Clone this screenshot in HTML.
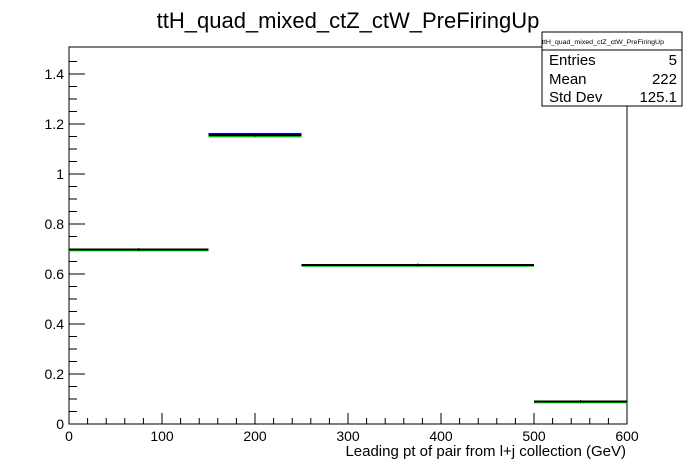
<!DOCTYPE html>
<html><head><meta charset="utf-8"><style>
body{margin:0;background:#fff;}
svg{display:block;font-family:"Liberation Sans",Arial,sans-serif;}
</style></head><body>
<svg id="c" width="696" height="472" viewBox="0 0 696 472">
<rect width="696" height="472" fill="#fff"/>
<text x="348" y="22" font-size="22" text-anchor="middle" dy="6">ttH_quad_mixed_ctZ_ctW_PreFiringUp</text>
<rect x="69" y="47" width="558" height="377" fill="none" stroke="#000" stroke-width="1"/>
<g id="axes"></g>
<g id="series"></g>
<text x="626" y="456" font-size="15" text-anchor="end">Leading pt of pair from l+j collection (GeV)</text>
<g>
<rect x="542" y="32" width="140" height="74" fill="#fff" stroke="#000"/>
<line x1="542" y1="50" x2="682" y2="50" stroke="#000"/>
<text x="542" y="44" font-size="6.5" textLength="122" lengthAdjust="spacingAndGlyphs">ttH_quad_mixed_ctZ_ctW_PreFiringUp</text>
<text x="549" y="65" font-size="15">Entries</text><text x="677" y="65" font-size="15" text-anchor="end">5</text>
<text x="549" y="84" font-size="15">Mean</text><text x="677" y="84" font-size="15" text-anchor="end">222</text>
<text x="549" y="102" font-size="15">Std Dev</text><text x="677" y="102" font-size="15" text-anchor="end">125.1</text>
</g>
</svg>
<script>
const binEdges=[0,150,250,500,600];
const blackVals=[0.698,1.155,0.636,0.090];
const blueVals=[0.698,1.160,0.636,0.090];
const greenVals=[0.694,1.150,0.632,0.086];
const xTicks=[0,100,200,300,400,500,600];
const yTicks=[0,0.2,0.4,0.6,0.8,1,1.2,1.4];
const NS="http://www.w3.org/2000/svg";
const X0=69,X1=627,Y0=424,YT=47,xMax=600,yMax=1.508;
const sx=v=>X0+(v/xMax)*(X1-X0);
const sy=v=>Y0-(v/yMax)*(Y0-YT);
function mk(t,a,p){const e=document.createElementNS(NS,t);for(const k in a)e.setAttribute(k,a[k]);p.appendChild(e);return e;}
const ax=document.getElementById('axes');
for(let v=0;v<=xMax+1e-9;v+=20){const maj=Math.abs(v%100)<1e-9;
 const l=mk('line',{x1:sx(v),x2:sx(v),y1:Y0,y2:Y0-(maj?11:6),stroke:'#000'},ax);
 }
xTicks.forEach(v=>{const t=mk('text',{x:sx(v),y:Y0+17,'font-size':14,'text-anchor':'middle'},ax);t.textContent=String(v);
 });
for(let v=0;v<=1.5;v+=0.05){const maj=Math.abs((v/0.2)-Math.round(v/0.2))<1e-6;
 const l=mk('line',{x1:X0,x2:X0+(maj?16:8),y1:sy(v),y2:sy(v),stroke:'#000'},ax);
 }
yTicks.forEach(v=>{const t=mk('text',{x:X0-5,y:sy(v)+5,'font-size':14,'text-anchor':'end'},ax);t.textContent=String(v);
 });
const sg=document.getElementById('series');
function drawHist(vals,color,w,name){
 vals.forEach((v,i)=>{const l=mk('line',{x1:sx(binEdges[i]),x2:sx(binEdges[i+1]),y1:sy(v),y2:sy(v),stroke:color,'stroke-width':w},sg);
  });
}
drawHist(blueVals,'#0000ff',2,'blue-hist');
drawHist(greenVals,'#00ff00',2,'green-hist');
drawHist(blackVals,'#000000',2,'black-hist');
blackVals.forEach((v,i)=>{const c=(binEdges[i]+binEdges[i+1])/2;
 const l=mk('line',{x1:sx(c),x2:sx(c),y1:sy(v)-1.5,y2:sy(v)+1.5,stroke:'#000'},sg);
 });
</script>
</body></html>
